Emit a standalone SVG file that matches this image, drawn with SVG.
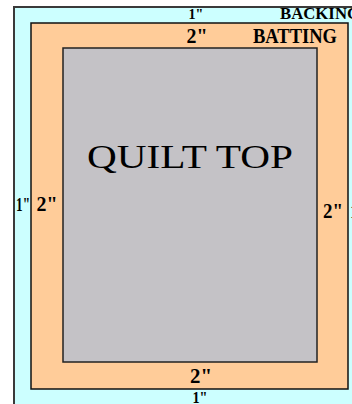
<svg xmlns="http://www.w3.org/2000/svg" width="352" height="404" viewBox="0 0 352 404">
<style>
.b{font-family:"Liberation Serif","Times New Roman",serif;font-weight:bold;fill:#000}
.q{font-family:"Liberation Serif","Times New Roman",serif;fill:#000}
</style>
<rect x="0" y="0" width="352" height="404" fill="#fff"/>
<g id="backing">
<rect x="14" y="7" width="350" height="410" fill="#CCFFFF" stroke="#3a3a3a" stroke-width="2"/>
<text class="b" x="280" y="19" font-size="16" textLength="80" lengthAdjust="spacingAndGlyphs">BACKING</text>
<text class="b" x="196" y="19" font-size="14" text-anchor="middle">1"</text>
<text class="b" x="23" y="211" font-size="18" text-anchor="middle" textLength="14" lengthAdjust="spacingAndGlyphs">1"</text>
<text class="b" x="350" y="218" font-size="18">1"</text>
<text class="b" x="200" y="403" font-size="16" text-anchor="middle" textLength="15" lengthAdjust="spacingAndGlyphs">1"</text>
</g>
<g id="batting">
<rect x="31" y="23" width="317" height="366" fill="#FFCC99" stroke="#111" stroke-width="1.5"/>
<text class="b" x="253" y="43" font-size="20" textLength="84" lengthAdjust="spacingAndGlyphs">BATTING</text>
<text class="b" x="197" y="43" font-size="20" text-anchor="middle" textLength="21" lengthAdjust="spacingAndGlyphs">2"</text>
<text class="b" x="47" y="211" font-size="20" text-anchor="middle" textLength="21" lengthAdjust="spacingAndGlyphs">2"</text>
<text class="b" x="333" y="218" font-size="20" text-anchor="middle" textLength="20" lengthAdjust="spacingAndGlyphs">2"</text>
<text class="b" x="201" y="383" font-size="20" text-anchor="middle" textLength="22" lengthAdjust="spacingAndGlyphs">2"</text>
</g>
<g id="quilt-top">
<rect x="63" y="48" width="254" height="314" fill="#C4C2C6" stroke="#222" stroke-width="1.5"/>
<text class="q" x="87" y="168" font-size="34" textLength="206" lengthAdjust="spacingAndGlyphs">QUILT TOP</text>
</g>
</svg>
